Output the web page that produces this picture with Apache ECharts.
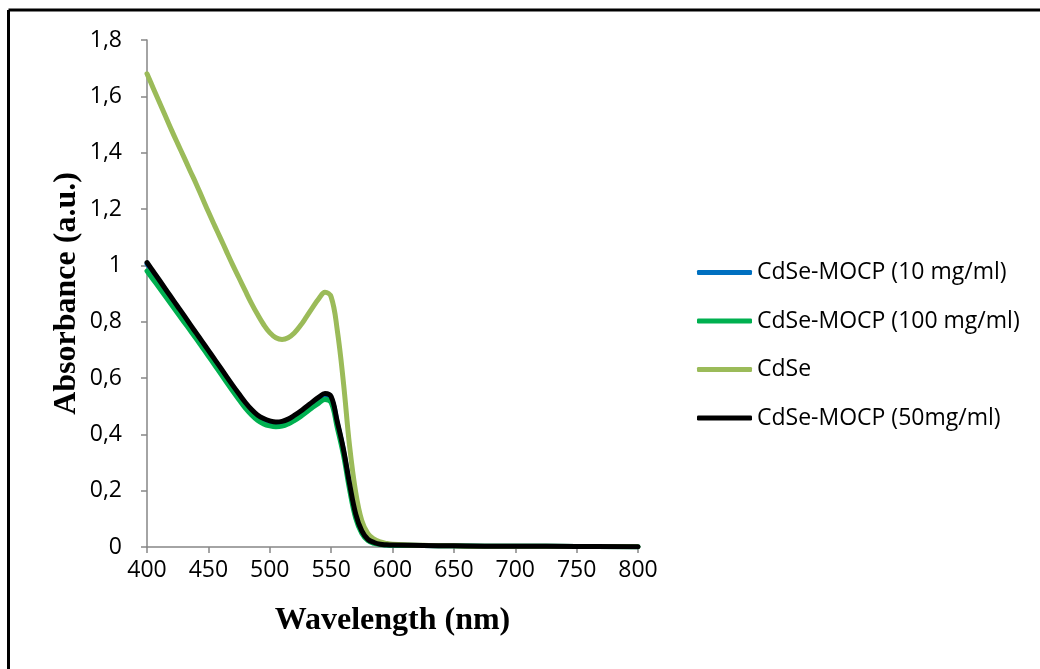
<!DOCTYPE html>
<html>
<head>
<meta charset="utf-8">
<script src="https://cdn.jsdelivr.net/npm/echarts@6/dist/echarts.min.js"></script>
<style>
html,body{margin:0;padding:0;background:#fff;}
#chart{width:1040px;height:669px;}
</style>
</head>
<body>
<div id="chart"></div>
<script>
// Wavelength sample points (nm)
const wavelengths = [400,405,410,415,420,425,430,435,440,445,450,455,460,465,470,475,480,485,490,495,500,505,510,515,520,525,530,535,540,545,550,555,560,565,570,575,580,585,590,595,600,625,650,675,700,750,800];

// Absorbance values (a.u.)
const cdse = [1.68,1.63,1.58,1.53,1.48,1.432,1.385,1.337,1.29,1.24,1.19,1.142,1.095,1.047,1.0,0.955,0.91,0.866,0.826,0.79,0.761,0.743,0.737,0.743,0.76,0.786,0.818,0.851,0.882,0.904,0.888,0.77,0.585,0.36,0.195,0.093,0.047,0.028,0.018,0.013,0.01,0.006,0.004,0.003,0.003,0.002,0.001];
const mocp50 = [1.01,0.979,0.948,0.916,0.885,0.854,0.823,0.791,0.76,0.729,0.698,0.667,0.636,0.604,0.573,0.543,0.514,0.489,0.469,0.456,0.448,0.444,0.446,0.454,0.467,0.482,0.499,0.516,0.532,0.545,0.534,0.445,0.348,0.225,0.118,0.057,0.027,0.016,0.01,0.008,0.007,0.005,0.004,0.003,0.003,0.002,0.001];
const mocp10 = [1.005,0.974,0.943,0.911,0.88,0.849,0.818,0.786,0.755,0.724,0.693,0.662,0.631,0.599,0.568,0.538,0.509,0.484,0.464,0.451,0.443,0.439,0.441,0.449,0.462,0.477,0.494,0.511,0.527,0.54,0.529,0.44,0.343,0.22,0.113,0.055,0.026,0.015,0.01,0.008,0.007,0.005,0.004,0.003,0.003,0.002,0.001];
const mocp100 = [0.98,0.95,0.92,0.89,0.86,0.83,0.80,0.77,0.74,0.709,0.678,0.647,0.616,0.584,0.553,0.523,0.494,0.47,0.45,0.437,0.43,0.427,0.429,0.437,0.449,0.463,0.479,0.496,0.511,0.524,0.513,0.424,0.328,0.205,0.103,0.049,0.023,0.013,0.009,0.007,0.006,0.005,0.004,0.003,0.003,0.002,0.001];

const seriesNames = ['CdSe-MOCP (10 mg/ml)','CdSe-MOCP (100 mg/ml)','CdSe','CdSe-MOCP (50mg/ml)'];
const seriesValues = [mocp10, mocp100, cdse, mocp50];
const seriesColors = ['#0070C0','#00B050','#9BBB59','#000000'];

const xTicks = {min:400, max:800, interval:50};
const yTicks = {min:0, max:1.8, interval:0.2};

const chart = echarts.init(document.getElementById('chart'), null, {renderer:'canvas'});

const axisLineStyle = {color:'#868686', width:1.5};

const option = {
  backgroundColor:'#ffffff',
  animation:false,
  grid:{left:147, right:402, top:40, bottom:122, containLabel:false},
  graphic:[
    {type:'line', shape:{x1:8.5,y1:10,x2:1040,y2:10}, style:{stroke:'#000',lineWidth:3}},
    {type:'line', shape:{x1:8.5,y1:10,x2:8.5,y2:669}, style:{stroke:'#000',lineWidth:3}}
  ],
  legend:{
    orient:'vertical',
    left:692,
    top:256,
    icon:'roundRect',
    itemWidth:55,
    itemHeight:5,
    itemGap:25.5,
    data:seriesNames,
    textStyle:{fontFamily:'Open Sans', fontSize:23, color:'#000', lineHeight:23}
  },
  xAxis:{
    type:'value',
    min:xTicks.min, max:xTicks.max, interval:xTicks.interval,
    name:'Wavelength (nm)',
    nameLocation:'middle',
    nameGap:58,
    nameTextStyle:{fontFamily:'Liberation Serif', fontWeight:'bold', fontSize:32, color:'#000'},
    axisLine:{show:true, lineStyle:axisLineStyle},
    axisTick:{show:true, inside:false, length:6, lineStyle:axisLineStyle},
    axisLabel:{fontFamily:'Open Sans', fontSize:23, color:'#000', margin:12},
    splitLine:{show:false}
  },
  yAxis:{
    type:'value',
    min:yTicks.min, max:yTicks.max, interval:yTicks.interval,
    name:'Absorbance (a.u.)',
    nameLocation:'middle',
    nameGap:64,
    nameTextStyle:{fontFamily:'Liberation Serif', fontWeight:'bold', fontSize:32, color:'#000'},
    axisLine:{show:true, lineStyle:axisLineStyle},
    axisTick:{show:true, inside:false, length:6, lineStyle:axisLineStyle},
    axisLabel:{fontFamily:'Open Sans', fontSize:23, color:'#000', margin:25,
      formatter:function(v){return String(+v.toFixed(1)).replace('.', ',');}},
    splitLine:{show:false}
  },
  series: seriesNames.map(function(name,i){
    return {
      name:name,
      type:'line',
      showSymbol:false,
      symbol:'none',
      smooth:0.4,
      color:seriesColors[i],
      lineStyle:{width:5, color:seriesColors[i], cap:'round', join:'round'},
      data: wavelengths.map(function(w,j){return [w, seriesValues[i][j]];})
    };
  })
};
chart.setOption(option);
</script>
</body>
</html>
